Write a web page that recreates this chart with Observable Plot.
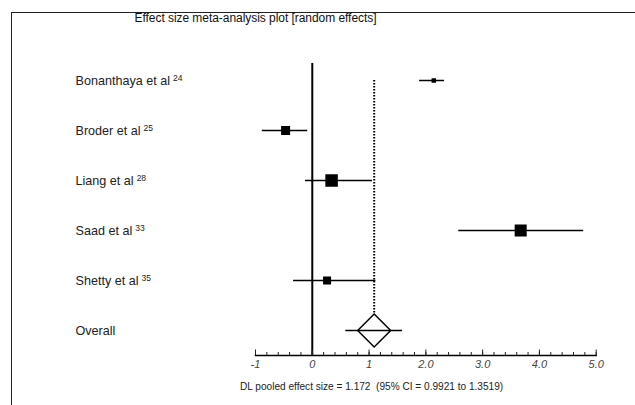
<!DOCTYPE html>
<html><head><meta charset="utf-8">
<script src="https://cdn.jsdelivr.net/npm/d3@7"></script>
<script src="https://cdn.jsdelivr.net/npm/@observablehq/plot@0.6"></script>
<style>
body{margin:0;background:#fff;}
#wrap{position:relative;width:635px;height:405px;overflow:hidden;font-family:"Liberation Sans",Arial,sans-serif;background:#fff;}
#border{position:absolute;left:11px;top:12px;width:700px;height:500px;border-left:1.5px solid #222;border-top:1.5px solid #222;}
#title{position:absolute;left:0;width:511px;top:12px;text-align:center;font-size:12px;line-height:12px;letter-spacing:-0.05px;color:#111;white-space:nowrap;}
#caption{position:absolute;left:240px;top:381.5px;font-size:10.1px;line-height:10px;color:#222;white-space:pre;}
#chart{position:absolute;left:0;top:0;}
</style></head>
<body>
<div id="wrap">
  <div id="border"></div>
  <div id="chart"></div>
  <div id="title"></div>
  <div id="caption"></div>
</div>
<script>
// ---- data ----
const studies = ["Bonanthaya et al", "Broder et al", "Liang et al", "Saad et al", "Shetty et al"];
const refs = ["24", "25", "28", "33", "35"];
const effect = [2.14, -0.47, 0.34, 3.67, 0.26];
const ciLow = [1.89, -0.88, -0.12, 2.58, -0.33];
const ciHigh = [2.33, -0.08, 1.06, 4.78, 1.12];
const weight = [4.3, 17.4, 33.5, 31.0, 13.8];
const overallLabel = "Overall";
const pooled = 1.09;
const pooledLow = 0.59;
const pooledHigh = 1.59;
const majorTicks = [-1, 0, 1, 2, 3, 4, 5];
const tickLabels = ["-1", "0", "1", "2.0", "3.0", "4.0", "5.0"];
const minorTicks = d3.range(-1, 5.0001, 0.2).map(v => Math.round(v * 10) / 10);
const titleText = "Effect size meta-analysis plot [random effects]";
const captionText = "DL pooled effect size = 1.172  (95% CI = 0.9921 to 1.3519)";

const rows = studies.map((s, i) => ({study: s, effect: effect[i], lo: ciLow[i], hi: ciHigh[i], weight: weight[i]}));
const overall = {study: overallLabel, effect: pooled, lo: pooledLow, hi: pooledHigh};
const labels = [...studies, overallLabel];
const pooledLine = [{x: pooled, from: studies[0], to: overallLabel}];

const diamond = {
  draw(ctx, size) {
    const h = Math.sqrt(size / Math.PI);
    ctx.moveTo(0, -h); ctx.lineTo(h, 0); ctx.lineTo(0, h); ctx.lineTo(-h, 0); ctx.closePath();
  }
};

const chart = Plot.plot({
  width: 635,
  height: 405,
  marginLeft: 255,
  marginRight: 39.3,
  marginTop: 54,
  marginBottom: 50,
  style: {fontFamily: "'Liberation Sans', Arial, sans-serif", background: "transparent"},
  x: {domain: [-1, 5], axis: null},
  y: {type: "point", domain: labels, axis: null},
  r: {type: "sqrt", domain: [0, 33.5], range: [0, 12.5 / Math.sqrt(Math.PI)]},
  marks: [
    Plot.ruleX([0], {stroke: "#000", strokeWidth: 2, insetTop: 9}),
    Plot.ruleX(pooledLine, {x: "x", y1: "from", y2: "to", stroke: "#000", strokeWidth: 2, strokeDasharray: "1.5 1.5"}),
    Plot.ruleY(rows, {y: "study", x1: "lo", x2: "hi", stroke: "#000", strokeWidth: 1.5}),
    Plot.dot(rows, {x: "effect", y: "study", r: "weight", symbol: "square", fill: "#000", stroke: null}),
    Plot.dot([overall], {x: "effect", y: "study", r: 16.5, symbol: diamond, fill: "#fff", stroke: "#000", strokeWidth: 1.5}),
    Plot.ruleY([overall], {y: "study", x1: "lo", x2: "hi", stroke: "#000", strokeWidth: 1.5}),
    Plot.text(labels, {y: d => d, text: d => d, frameAnchor: "left", dx: -180, textAnchor: "start", fontSize: 12.6, fill: "#222"}),
    Plot.frame({anchor: "bottom", stroke: "#000", strokeWidth: 1.5}),
    Plot.axisX(minorTicks, {tickSize: -3, tickFormat: () => "", stroke: "#222"}),
    Plot.axisX(majorTicks, {tickSize: -5.5, tickFormat: () => "", stroke: "#222"}),
    Plot.axisX(majorTicks, {tickSize: 0, tickPadding: 5, tickFormat: d => tickLabels[majorTicks.indexOf(d)], fontStyle: "italic", fontSize: 11, fill: "#444"})
  ]
});

// superscript reference numbers
d3.select(chart).selectAll("text").each(function() {
  const k = studies.indexOf(this.textContent);
  if (k >= 0) {
    d3.select(this).append("tspan").attr("dx", 3).attr("dy", "-0.42em").attr("font-size", 8.5).text(refs[k]);
  }
});

document.getElementById("chart").appendChild(chart);
document.getElementById("title").textContent = titleText;
document.getElementById("caption").textContent = captionText;
</script>
</body></html>
